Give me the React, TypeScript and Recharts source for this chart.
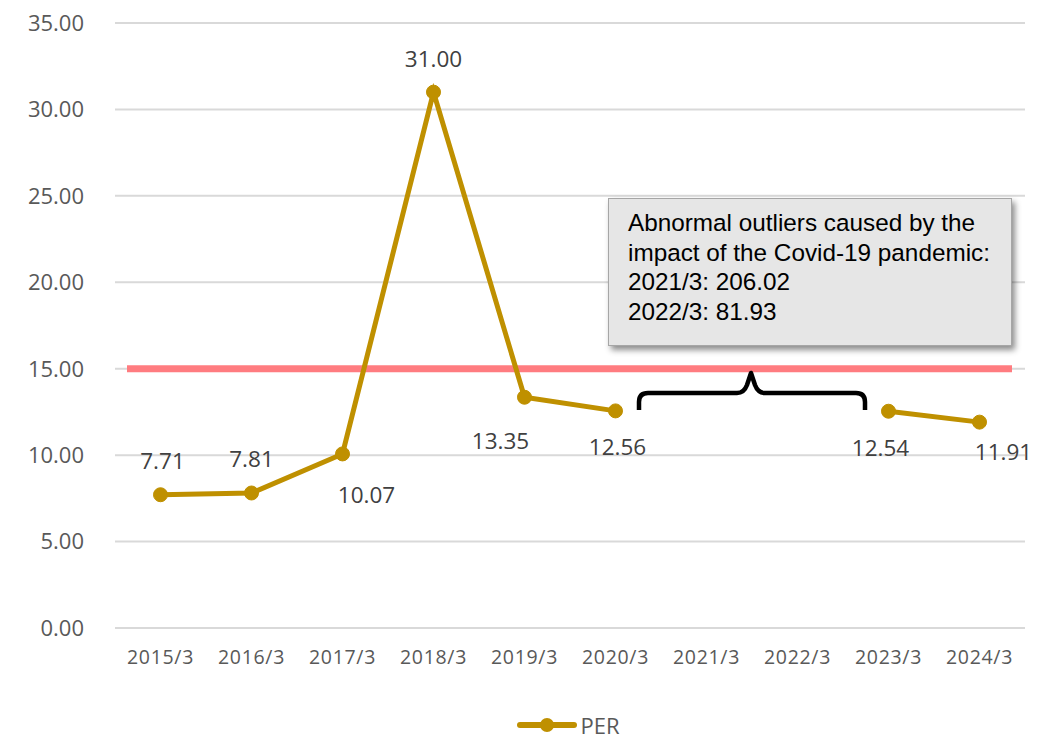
import React from "react";
import {
  LineChart,
  Line,
  XAxis,
  YAxis,
  CartesianGrid,
  Legend,
  LabelList,
  ReferenceLine,
} from "recharts";

const periods = [
  "2015/3",
  "2016/3",
  "2017/3",
  "2018/3",
  "2019/3",
  "2020/3",
  "2021/3",
  "2022/3",
  "2023/3",
  "2024/3",
];

// 2021/3 and 2022/3 are left out of the line (see the note box)
const perValues: (number | null)[] = [
  7.71, 7.81, 10.07, 31.0, 13.35, 12.56, null, null, 12.54, 11.91,
];

const yTicks = [0, 5, 10, 15, 20, 25, 30, 35];
const benchmark = 15;

const noteLines = [
  "Abnormal outliers caused by the",
  "impact of the Covid-19 pandemic:",
  "2021/3: 206.02",
  "2022/3: 81.93",
];

const rows = periods.map((period, i) => ({ period, per: perValues[i] }));

const GOLD = "#BF9000";
const TICK_FONT = "'Open Sans', sans-serif";

// label offset from each point (centre of text)
const labelShift: Record<number, [number, number]> = {
  0: [2, -34],
  1: [0, -34],
  2: [24, 41],
  3: [0, -34],
  4: [-24, 43],
  5: [2, 36],
  8: [-8, 36],
  9: [24, 29],
};

function PointLabel(props: any) {
  const { x, y, value, index } = props;
  if (value == null) return null;
  const [dx, dy] = labelShift[index] ?? [0, -34];
  return (
    <text
      x={x + dx}
      y={y + dy}
      textAnchor="middle"
      dominantBaseline="central"
      fill="#404040"
      fontSize={22.5}
      fontFamily={TICK_FONT}
    >
      {Number(value).toFixed(2)}
    </text>
  );
}

function BenchmarkShape(props: any) {
  const { x1, x2, y1 } = props;
  return (
    <line
      x1={x1 + 12}
      x2={x2 - 13}
      y1={y1}
      y2={y1}
      stroke="#FF7C80"
      strokeWidth={7}
    />
  );
}

function LegendContent() {
  return (
    <div
      style={{
        display: "flex",
        justifyContent: "center",
        alignItems: "center",
        height: 22,
        paddingTop: 36,
        paddingLeft: 112,
        fontFamily: TICK_FONT,
        fontSize: 22,
        lineHeight: "22px",
        color: "#595959",
      }}
    >
      <svg width={60} height={20} style={{ marginRight: 3 }}>
        <line x1={3} x2={57} y1={10} y2={10} stroke={GOLD} strokeWidth={6} strokeLinecap="round" />
        <circle cx={30} cy={10} r={7} fill={GOLD} />
      </svg>
      <span>PER</span>
    </div>
  );
}

export default function App() {
  return (
    <div style={{ position: "absolute", left: 0, top: 0, width: 1038, height: 738 }}>
      <LineChart
        width={1038}
        height={738}
        data={rows}
        margin={{ top: 23, right: 13, left: 0, bottom: 0 }}
      >
        <CartesianGrid stroke="#D9D9D9" strokeWidth={2} vertical={false} />
        <XAxis
          dataKey="period"
          axisLine={false}
          tickLine={false}
          tickSize={0}
          tickMargin={22}
          height={50}
          interval={0}
          padding={{ left: 45.5, right: 45.5 }}
          tick={{ fontSize: 19.5, fill: "#595959", fontFamily: TICK_FONT, letterSpacing: 0.7 }}
        />
        <YAxis
          domain={[0, 35]}
          ticks={yTicks}
          width={115}
          axisLine={false}
          tickLine={false}
          tickSize={0}
          tickMargin={31}
          tickFormatter={(v: number) => v.toFixed(2)}
          tick={{ fontSize: 22, fill: "#595959", fontFamily: TICK_FONT }}
        />
        <ReferenceLine y={benchmark} shape={BenchmarkShape} />
        <Line
          dataKey="per"
          stroke={GOLD}
          strokeWidth={5}
          dot={{ r: 7, fill: GOLD, stroke: GOLD, strokeWidth: 1 }}
          connectNulls={false}
          isAnimationActive={false}
        >
          <LabelList dataKey="per" content={PointLabel} />
        </Line>
        <Legend verticalAlign="bottom" height={60} content={LegendContent} />
      </LineChart>

      {/* note box */}
      <div
        style={{
          position: "absolute",
          left: 608,
          top: 198,
          width: 404,
          height: 148,
          boxSizing: "border-box",
          background: "#E6E6E6",
          border: "1px solid #A6A6A6",
          boxShadow: "3px 4px 6px rgba(0,0,0,0.45)",
          padding: "9px 0 0 19px",
          fontFamily: "'Liberation Sans', Arial, sans-serif",
          fontSize: 24.3,
          lineHeight: "29.5px",
          color: "#000",
          whiteSpace: "nowrap",
        }}
      >
        {noteLines.map((t) => (
          <div key={t}>{t}</div>
        ))}
      </div>

      {/* brace over the missing years */}
      <svg
        width={1038}
        height={738}
        style={{ position: "absolute", left: 0, top: 0, pointerEvents: "none" }}
      >
        <path
          d="M639 410 L639 402 Q639 393 648 393 L737 393 Q744 393 747 385 L751 373 L755 385 Q758 393 765 393 L856 393 Q865 393 865 402 L865 410"
          fill="none"
          stroke="#000"
          strokeWidth={4.5}
          strokeLinejoin="round"
        />
      </svg>
    </div>
  );
}
